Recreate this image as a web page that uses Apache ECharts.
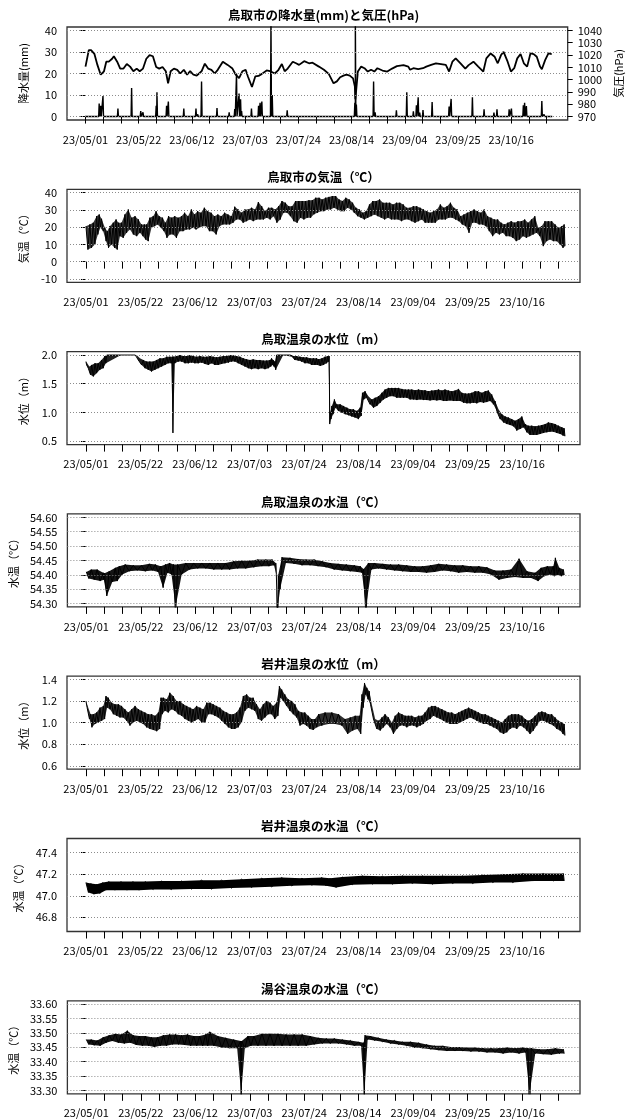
<!DOCTYPE html>
<html><head><meta charset="utf-8">
<script src="https://cdn.jsdelivr.net/npm/echarts@6/dist/echarts.min.js"></script>
<style>html,body{margin:0;padding:0;background:#fff}#c{width:632px;height:1120px}</style>
</head><body><div id="c"></div>
<script>
// ---------- axis labels / ticks ----------
const tickLabels = ['23/05/01','23/05/22','23/06/12','23/07/03','23/07/24','23/08/14','23/09/04','23/09/25','23/10/16'];
const rainTicks = [0,10,20,30,40];
const pressTicks = [970,980,990,1000,1010,1020,1030,1040];
const tempTicks = [-10,0,10,20,30,40];
const tLevelTicks = [0.5,1.0,1.5,2.0];
const tWaterTicks = [54.30,54.35,54.40,54.45,54.50,54.55,54.60];
const iLevelTicks = [0.6,0.8,1.0,1.2,1.4];
const iWaterTicks = [46.8,47.0,47.2,47.4];
const yWaterTicks = [33.30,33.35,33.40,33.45,33.50,33.55,33.60];

// ---------- data (x = days since 2023-05-01 00:00) ----------
const pressureDay = [0,1.3,2.2,3.5,4.7,6.0,7.3,8.2,9.2,10.5,11.2,12.5,13.7,15.0,16.3,17.6,18.9,20.2,21.4,22.7,24.0,25.3,26.6,27.9,29.1,30.4,31.7,32.6,33.6,34.9,36.2,37.4,38.8,40.1,41.3,42.6,43.9,45.8,47.1,48.4,49.7,51.0,52.2,54.2,56.1,58.0,59.3,60.6,61.9,63.2,64.1,65.7,67.0,68.3,69.6,71.5,72.8,74.7,76.0,77.5,78.6,79.8,81.8,83.1,84.3,86.3,88.2,89.6,92.1,94.1,96.0,97.9,99.2,100.5,101.8,103.0,104.3,105.6,106.3,106.5,107.5,108.8,110.1,111.4,112.7,114.0,115.2,117.2,119.1,121.0,122.9,125.5,127.4,128.1,129.4,131.3,133.2,134.5,136.4,138.3,140.3,142.2,143.5,144.8,146.1,148.0,149.9,151.2,153.1,155.0,157.0,158.2,159.9,161.5,162.7,164.0,165.0,166.6,167.9,169.2,170.4,171.7,173.0,174.3,175.6,176.9,178.1,179.4,180.1,181.4,182.7,184.0];
const pressureHpa = [1010.6,1024,1024,1021,1012,1004,1006.8,1014.6,1014.6,1017,1019,1014.6,1009,1009,1012.7,1010.6,1006.8,1009,1006.8,1009,1017,1020,1019,1010.3,1009,1010.3,1006.8,997,1006.8,1009,1008,1005,1008,1004,1007,1004,1003.3,1006.8,1013,1009,1008,1005,1008,1014.6,1012,1009,1004,1001.3,1006.8,1008,1002.6,994,1002.6,1003,1004.7,1007.5,1007,1005,1007.5,1012.7,1006.8,1009,1014.6,1013.3,1012,1015,1013.3,1013.8,1010.6,1008,1004.7,997,998.6,1002,1003.3,1004,1003.3,1001,994.6,984,1006.6,1010.6,1009.3,1006.6,1008,1006.6,1009.3,1007.4,1006.6,1009,1011,1011.8,1010.6,1008,1009.3,1008.5,1009.3,1010.6,1012,1013.3,1012.7,1012,1006.6,1014.6,1017.3,1013.3,1009,1011.8,1014.6,1010.6,1006.6,1017.3,1021.3,1018.6,1013.3,1020,1022.6,1014.6,1006.6,1009.3,1017.3,1020.8,1013.3,1010.6,1021.3,1020.8,1018.6,1010.6,1008.5,1015.9,1021.3,1020.8];

const rainDay = [0,5.4,6.0,6.9,12.8,18.2,21.8,22.7,27.9,28.2,32.0,32.7,38.8,43.6,44.3,45.8,51.9,56.7,58.9,59.6,60.6,61.2,61.6,65.5,68.3,68.9,69.6,73.2,73.7,79.6,106.3,106.5,106.9,113.7,114.3,122.7,126.8,129.4,130.6,131.3,131.9,133.2,136.8,143.5,144.3,152.7,157.3,161.2,162.4,167.2,168.1,172.8,173.3,174.0,180.1,181.0,184];
const rainMm  = [0,6,5,9.5,3.7,13.3,2.6,2,5,11.3,5,7,3.7,3.7,1,16.3,4,2,3.5,20,10.7,8,2.6,3.7,5,6.4,7,45,10,2.9,6.4,45,5.6,16.3,2,2.9,11.3,2.4,5.2,9,1.8,3,6.7,4.6,8.2,9,3.4,1.8,3.4,3.4,3.7,5.2,6.4,4.9,7.2,1,0];

const tempDay = [0,1.5,2.8,4.1,5.1,6.0,7.3,8.2,9.2,10.5, 11.6,12.5,13.7,15.0,16.3,17.6,18.9,20.2,21.4,22.5, 23.4,24.6,25.9,27.0,28.2,29.5,30.6,31.8,33.0,34.2, 35.5,36.8,38.0,39.3,40.6,41.8,43.0,44.3,45.6,46.9, 48.2,49.5,50.8,52.1,53.4,54.7,56.0,57.3,58.6,59.9, 61.2,62.5,63.8,65.1,66.4,67.7,69.0,70.3,71.6,72.9, 74.2,75.5,76.8,78.1,79.4,80.7,82.0,83.3,84.6,85.9, 87.2,88.5,89.8,91.0,92.3,93.6,94.9,96.2,97.5,98.8, 100.1,101.4,102.7,104.0,105.3,106.6,107.9,109.2,110.5,111.8, 113.1,114.4,115.7,117.0,118.3,119.6,120.9,122.2,123.5,124.8, 126.1,127.4,128.7,130.0,131.3,132.6,133.9,135.2,136.5,137.8, 139.1,140.4,141.7,143.0,144.3,145.6,146.9,148.2,149.5,150.8, 152.1,153.4,154.7,156.0,157.3,158.6,159.9,161.2,162.5,163.8, 165.1,166.4,167.7,169.0,170.3,171.6,172.9,174.2,175.5,176.8, 178.1,179.4,180.7,182.0,183.3,184.2];
const tempMax = [20.6,21.6,22.6,26.4,27.4,24.9,19.7,17.7,20.6,22.6, 24.5,22.6,22.6,27.4,30.3,25.5,26.4,24.5,21.6,21.6, 21.6,25.5,26.4,29.3,26.4,25.5,22.6,26.4,25.5,26.4, 25.5,26.4,28.4,26.4,30.3,27.4,29.3,28.4,31.3,29.3, 28.4,26.4,27.4,26.4,28.4,27.4,26.4,31.9,30.3,28.4, 30.3,30.3,31.3,30.3,34.6,32.2,29.3,31.3,31.3,30.3, 32.2,35.2,34.2,32.2,32.2,35.2,35.2,35.2,35.2,35.7, 35.7,37.1,37.1,36.1,37.1,37.6,38.1,38.1,36.1,35.2, 37.1,36.1,34.2,31.3,30.3,28.4,29.3,33.2,35.2,35.2, 36.1,34.2,34.2,34.2,33.2,34.2,34.2,33.2,31.3,31.3, 32.2,32.2,31.3,30.3,29.3,28.4,29.3,30.3,33.2,31.3, 32.2,34.2,31.3,30.3,26.4,27.4,28.4,29.3,30.3,29.3, 28.4,30.3,26.4,25.5,24.5,24.5,22.6,21.6,22.6,23.5, 22.6,23.5,23.5,24.5,22.6,24.5,26.4,19.7,20.6,23.5, 23.5,23.5,21.6,19.7,20.6,21.6];
const tempMin = [7,8,10,15.8,19.7,17.7,11.9,8,10,8, 7,14.8,13.8,16.7,18.7,15.8,14.8,16.7,14.8,12.9, 11.9,19.7,20.6,21.6,19.7,17.7,13.8,15.8,15.8,13.8, 17.7,17.7,18.7,18.7,19.7,18.7,19.7,20.6,20.6,17.7, 17.7,15.8,20.6,21.6,21.6,21.6,22.6,24.5,24.5,22.6, 23.5,24.5,23.5,24.5,24.5,24.5,25.5,24.5,26.4,22.6, 24.5,28.4,28.4,26.4,23.5,22.6,25.5,24.5,25.5,25.5, 27.5,28.4,29.3,29.3,30.3,30.3,31.3,30.3,29.3,29.3, 31.3,30.3,28.4,26.4,25.5,24.5,25.5,26.4,27.4,26.4, 25.5,24.5,25.5,24.5,24.5,24.5,23.5,24.5,24.5,23.5, 22.6,23.5,24.5,22.6,22.6,22.6,22.6,24.5,24.5,24.5, 25.5,25.5,24.5,23.5,21.6,20.6,16.7,22.6,22.6,21.6, 21.6,20.6,17.7,14.8,16.7,15.8,16.7,14.8,14.8,13.8, 11.9,12.9,14.8,13.8,14.8,15.8,16.7,14.8,9,11.9, 12.9,11.9,11.9,10,8,9];

const tLevelDay = [0,0.5,1.3,2.2,3.5,4.7,6.0,7.3,8.0,19.0, 19.5,20.8,22.1,23.4,24.6,25.9,27.2,28.5,29.8,31.1, 32.3,33.4,33.6,34.9,36.2,37.5,38.8,40.1,41.3,42.6, 43.9,45.2,46.5,47.8,49.0,50.3,51.6,52.9,54.2,55.5, 56.7,58.0,59.3,60.6,61.9,63.2,64.4,65.7,67.0,68.3, 69.6,70.9,71.5,72.1,72.8,73.4,78.6,79.8,81.1,82.4, 83.7,85.0,86.3,87.6,88.8,89.6,90.9,92.1,93.2,93.7, 94.1,94.7,95.7,96.6,97.9,99.2,100.5,101.8,103.0,104.3, 105.6,106.5,107.5,108.8,110.1,111.4,112.7,114.0,115.2,116.5, 117.8,119.1,120.4,121.7,123.0,124.2,125.5,126.8,128.1,129.4, 130.6,131.9,133.2,134.5,135.8,137.1,138.3,139.6,140.9,142.2, 143.5,144.8,146.1,147.4,148.6,149.9,151.2,152.5,153.8,155.0, 156.3,157.6,158.9,160.2,161.5,162.7,164.0,165.3,166.6,167.9, 169.2,170.4,171.7,173.0,174.3,175.6,176.9,178.1,179.4,180.7, 182.0,183.3,184.2];
const tLevelMax = [1.886,1.857,1.8,1.828,1.857,1.857,1.914,1.983,2.0,2.0, 2.0,1.943,1.914,1.886,1.886,1.886,1.914,1.943,1.943,1.971, 1.971,1.971,1.971,1.983,2.0,1.983,1.983,2.0,1.983,1.971, 1.983,1.971,1.971,1.983,1.971,1.96,1.971,1.983,1.983,2.0, 1.994,1.983,1.971,1.943,1.926,1.914,1.926,1.914,1.914,1.903, 1.903,1.914,1.943,1.914,1.886,2.0,2.0,1.983,1.983,1.971, 1.96,1.96,1.943,1.943,1.943,1.926,1.943,1.971,1.983,1.98, 0.998,1.113,1.227,1.141,1.141,1.113,1.084,1.056,1.056,1.027, 1.084,1.342,1.37,1.284,1.227,1.256,1.284,1.342,1.399,1.428, 1.428,1.428,1.428,1.41,1.399,1.399,1.399,1.388,1.399,1.388, 1.388,1.37,1.382,1.388,1.399,1.382,1.399,1.382,1.37,1.382, 1.41,1.342,1.33,1.33,1.342,1.37,1.37,1.342,1.37,1.382, 1.313,1.199,1.056,0.97,0.93,0.912,0.884,0.855,0.884,0.93, 0.798,0.769,0.769,0.758,0.769,0.781,0.798,0.827,0.815,0.798, 0.769,0.741,0.724];
const tLevelMin = [1.828,1.771,1.657,1.628,1.685,1.742,1.771,1.857,2.0,2.0, 1.914,1.828,1.771,1.742,1.714,1.742,1.771,1.8,1.828,1.857, 1.857,0.643,1.857,1.886,1.886,1.857,1.857,1.868,1.857,1.857, 1.868,1.845,1.828,1.857,1.828,1.828,1.845,1.857,1.868,1.886, 1.886,1.857,1.828,1.8,1.771,1.754,1.771,1.754,1.771,1.754, 1.771,1.8,1.828,1.8,1.742,2.0,1.971,1.914,1.903,1.886, 1.857,1.857,1.828,1.828,1.828,1.811,1.828,1.857,1.886,0.798, 0.884,0.97,1.084,1.027,0.998,0.97,0.952,0.93,0.912,0.884, 0.941,1.227,1.256,1.141,1.084,1.113,1.17,1.227,1.256,1.284, 1.284,1.256,1.256,1.256,1.256,1.227,1.227,1.216,1.227,1.216, 1.216,1.21,1.216,1.21,1.216,1.199,1.199,1.21,1.199,1.199, 1.199,1.17,1.159,1.159,1.17,1.159,1.181,1.17,1.181,1.199, 1.141,1.027,0.884,0.827,0.798,0.781,0.758,0.684,0.712,0.741, 0.655,0.609,0.609,0.609,0.626,0.643,0.655,0.666,0.666,0.643, 0.626,0.598,0.586];

const tWaterDay = [0,1.9,4.2,6.5,7.0,8.8,11.2,12.7,15.0,18.1, 21.2,24.3,26.6,28.7,30.5,32.1,33.6,35.2,38.3,41.4, 44.5,47.6,50.7,53.7,56.8,59.9,63.0,66.1,69.2,71.6, 73.1,73.4,73.7,74.0,75.4,78.5,81.6,84.7,87.8,90.9, 94.0,97.1,100.2,103.3,105.6,106.9,108.7,111.1,114.2,117.3, 120.4,123.5,126.6,129.6,132.7,135.8,138.9,142.0,145.1,148.2, 151.3,154.4,157.5,160.6,163.7,166.8,169.9,173.0,175.3,177.7, 180.0,180.8,182.3,183.9];
const tWaterMax = [54.410,54.418,54.418,54.407,54.405,54.412,54.424,54.430,54.436,54.433, 54.433,54.438,54.436,54.430,54.436,54.441,54.436,54.436,54.441,54.441, 54.441,54.441,54.441,54.441,54.447,54.449,54.449,54.453,54.453,54.453, 54.440,54.35,54.30,54.40,54.461,54.459,54.455,54.453,54.453,54.447, 54.441,54.438,54.436,54.433,54.430,54.42,54.441,54.441,54.438,54.436, 54.436,54.433,54.430,54.430,54.433,54.438,54.436,54.433,54.433,54.430, 54.430,54.426,54.415,54.415,54.418,54.456,54.412,54.407,54.424,54.430, 54.430,54.459,54.424,54.418];
const tWaterMin = [54.387,54.383,54.378,54.383,54.326,54.375,54.378,54.401,54.412,54.415, 54.412,54.415,54.410,54.355,54.407,54.401,54.25,54.401,54.418,54.422, 54.422,54.418,54.418,54.418,54.422,54.422,54.426,54.430,54.430,54.433, 54.40,54.25,54.25,54.35,54.441,54.438,54.433,54.433,54.430,54.426, 54.418,54.415,54.412,54.410,54.407,54.25,54.418,54.422,54.418,54.415, 54.412,54.410,54.410,54.407,54.410,54.415,54.412,54.407,54.410,54.407, 54.407,54.401,54.383,54.389,54.392,54.389,54.389,54.378,54.395,54.401, 54.395,54.40,54.395,54.399];

const iLevelDay = [0,0.9,1.8,2.8,4.1,5.4,6.7,7.7,8.6,9.9, 11.2,12.5,13.7,15.0,16.3,17.6,18.9,20.2,21.4,22.7, 24.0,25.3,26.6,27.9,28.9,29.8,31.1,32.3,33.6,34.9, 36.2,37.5,38.8,40.1,41.3,42.6,43.9,45.2,46.5,47.8, 49.0,50.3,51.6,52.9,54.2,55.5,56.7,58.0,59.3,60.6, 61.9,63.2,64.4,65.7,67.0,68.3,69.6,70.9,72.1,73.4, 74.5,75.4,76.6,77.9,79.2,80.5,81.8,83.1,84.3,85.6, 86.9,88.2,89.6,92.1,94.7,97.3,99.8,101.8,103.7,105.4, 106.3,107.3,108.2,109.1,110.1,111.4,112.7,114.0,115.2,116.5, 117.8,119.1,120.4,121.7,123.0,124.2,125.5,126.8,128.1,129.4, 130.6,131.9,133.2,134.5,135.8,137.1,138.3,139.6,140.9,142.2, 143.5,144.8,146.1,147.4,148.6,149.9,151.2,152.5,153.8,155.0, 156.3,157.6,158.9,160.2,161.5,162.7,164.0,165.3,166.6,167.9, 169.2,170.4,171.7,173.0,174.3,175.6,176.9,178.1,179.4,180.7, 182.0,183.3,184.2];
const iLevelMax = [1.202,1.140,1.079,1.079,1.095,1.140,1.156,1.247,1.232,1.186, 1.171,1.171,1.156,1.125,1.095,1.125,1.156,1.125,1.110,1.095, 1.079,1.079,1.064,1.095,1.232,1.232,1.217,1.278,1.247,1.202, 1.202,1.171,1.156,1.140,1.125,1.156,1.140,1.125,1.186,1.186, 1.171,1.156,1.140,1.110,1.095,1.079,1.079,1.095,1.140,1.247, 1.263,1.232,1.232,1.171,1.125,1.171,1.202,1.186,1.156,1.186, 1.339,1.308,1.263,1.217,1.202,1.171,1.110,1.095,1.095,1.064, 1.034,1.034,1.079,1.095,1.095,1.079,1.034,1.049,1.064,1.064, 1.263,1.369,1.324,1.293,1.171,1.034,1.018,1.049,1.079,1.049, 1.003,1.064,1.095,1.079,1.064,1.064,1.064,1.049,1.064,1.064, 1.095,1.140,1.156,1.156,1.140,1.125,1.110,1.095,1.095,1.079, 1.095,1.110,1.125,1.140,1.125,1.110,1.095,1.079,1.079,1.064, 1.049,1.034,1.018,1.003,1.034,1.064,1.079,1.079,1.079,1.064, 1.034,1.018,1.034,1.064,1.095,1.104,1.095,1.079,1.079,1.049, 1.018,1.003,0.988];
const iLevelMin = [1.140,1.034,0.957,0.988,1.003,1.018,1.034,1.140,1.125,1.079, 1.064,1.049,1.049,1.018,0.973,1.003,1.018,1.003,0.988,0.957, 0.942,0.933,0.921,0.942,1.079,1.110,1.095,1.125,1.110,1.079, 1.064,1.034,1.018,1.003,1.018,1.034,1.003,1.003,1.079,1.079, 1.064,1.049,1.018,0.988,0.957,0.942,0.942,0.957,1.003,1.110, 1.140,1.125,1.110,1.034,1.018,1.049,1.079,1.079,1.034,1.064, 1.232,1.202,1.156,1.110,1.079,1.049,0.973,0.988,0.973,0.942, 0.933,0.957,0.973,0.988,0.988,0.973,0.896,0.927,0.942,0.896, 1.140,1.263,1.217,1.171,1.034,0.942,0.927,0.957,0.988,0.957, 0.896,0.942,0.973,0.973,0.957,0.973,0.973,0.957,0.973,0.988, 1.018,1.034,1.064,1.049,1.034,1.018,1.003,0.988,0.988,0.988, 1.003,1.018,1.034,1.049,1.034,1.018,1.003,0.988,0.988,0.973, 0.957,0.942,0.911,0.896,0.911,0.942,0.957,0.942,0.973,0.957, 0.927,0.896,0.927,0.973,1.018,1.018,1.003,0.988,0.973,0.942, 0.927,0.896,0.881];

const iWaterDay = [0,1.9,4.2,6.5,8.8,13.5,18.1,22.8,29.0,36.7, 44.5,52.2,59.9,67.7,75.4,83.2,90.9,94.0,98.7,106.4, 114.2,121.9,129.6,137.4,145.1,152.9,160.6,168.3,176.1,183.9];
const iWaterMax = [47.123,47.114,47.108,47.123,47.132,47.132,47.132,47.132,47.138,47.138, 47.145,47.145,47.154,47.163,47.169,47.163,47.169,47.163,47.175,47.185, 47.182,47.185,47.185,47.185,47.185,47.194,47.2,47.206,47.206,47.206];
const iWaterMin = [47.031,47.015,47.022,47.052,47.052,47.052,47.052,47.058,47.058,47.062, 47.062,47.071,47.077,47.083,47.092,47.098,47.092,47.077,47.102,47.108, 47.108,47.114,47.108,47.114,47.114,47.123,47.123,47.138,47.138,47.138];

const yWaterDay = [0,1.9,4.2,6.5,8.8,11.2,13.5,15.8,18.1,20.4, 22.8,25.1,27.4,29.7,32.1,34.4,36.7,39.0,41.4,43.7, 46.0,47.6,50.7,53.7,56.8,59.5,59.9,62.3,64.6,67.7, 70.8,73.9,77.0,80.1,83.2,86.3,89.4,92.5,95.6,98.7, 101.8,104.9,106.9,107.4,109.5,112.6,115.7,118.8,121.9,125.0, 128.1,131.2,134.3,137.4,140.5,143.6,146.7,149.8,152.9,156.0, 159.1,162.2,165.3,168.3,170.2,171.5,174.6,177.7,180.8,183.9];
const yWaterMax = [33.477,33.477,33.474,33.485,33.492,33.497,33.495,33.508,33.492,33.489, 33.489,33.485,33.485,33.492,33.495,33.495,33.492,33.495,33.489,33.489, 33.495,33.504,33.489,33.483,33.477,33.472,33.472,33.489,33.489,33.497, 33.497,33.497,33.495,33.495,33.495,33.489,33.483,33.481,33.481,33.477, 33.474,33.469,33.466,33.492,33.489,33.483,33.477,33.474,33.469,33.469, 33.466,33.460,33.455,33.455,33.451,33.451,33.449,33.449,33.447,33.447, 33.447,33.449,33.447,33.449,33.447,33.447,33.443,33.443,33.447,33.443];
const yWaterMin = [33.460,33.457,33.455,33.466,33.472,33.466,33.463,33.466,33.458,33.455, 33.455,33.451,33.455,33.455,33.460,33.460,33.458,33.455,33.455,33.455, 33.455,33.455,33.449,33.447,33.447,33.2,33.447,33.455,33.455,33.455, 33.455,33.455,33.455,33.455,33.455,33.460,33.463,33.463,33.463,33.460, 33.455,33.455,33.2,33.477,33.474,33.469,33.463,33.460,33.455,33.449, 33.447,33.443,33.440,33.437,33.437,33.437,33.435,33.435,33.432,33.432, 33.428,33.432,33.428,33.432,33.2,33.428,33.426,33.424,33.428,33.428];

// ---------- layout / style ----------
const FONT = '"Noto Sans CJK JP","Noto Sans",sans-serif';
const ORIGIN = Date.UTC(2023,4,1);
const labelDays = tickLabels.map(s => (Date.UTC(2000 + +s.slice(0,2), +s.slice(3,5)-1, +s.slice(6,8)) - ORIGIN) / 86400000);
const weekTicks = []; for (let d = 0; d <= 182; d += 7) weekTicks.push(d);
const X_MIN = -7.3, X_MAX = 190.3;
const G_LEFT = 67, G_RIGHT = 52, G_H = 93;
const gTop = i => 27 + 162.3 * i;

const panels = [
  {title:'鳥取市の降水量(mm)と気圧(hPa)', name:'降水量(mm)', lim:[0,40], ticks:rainTicks, dec:0},
  {title:'鳥取市の気温（℃）', name:'気温（℃）', lim:[-10,40], ticks:tempTicks, dec:0},
  {title:'鳥取温泉の水位（m）', name:'水位（m）', lim:[0.5,2.0], ticks:tLevelTicks, dec:1},
  {title:'鳥取温泉の水温（℃）', name:'水温（℃）', lim:[54.3,54.6], ticks:tWaterTicks, dec:2},
  {title:'岩井温泉の水位（m）', name:'水位（m）', lim:[0.6,1.4], ticks:iLevelTicks, dec:1},
  {title:'岩井温泉の水温（℃）', name:'水温（℃）', lim:[46.7,47.5], ticks:iWaterTicks, dec:1},
  {title:'湯谷温泉の水温（℃）', name:'水温（℃）', lim:[33.3,33.6], ticks:yWaterTicks, dec:2}
];
const padLim = lim => { const p = (lim[1]-lim[0]) * 0.04; return [lim[0]-p, lim[1]+p]; };

const grids = panels.map((p,i) => ({left:G_LEFT, right:G_RIGHT, top:gTop(i), height:G_H, show:true, borderColor:'#333', borderWidth:1.3, backgroundColor:'transparent'}));

const xAxes = panels.map((p,i) => ({
  type:'value', gridIndex:i, min:X_MIN, max:X_MAX,
  axisLine:{show:false}, splitLine:{show:false},
  axisTick:{show:true, length:7, customValues:weekTicks, lineStyle:{color:'#000', width:1}},
  axisLabel:{customValues:labelDays, formatter:v => tickLabels[labelDays.indexOf(v)] || '', margin:14, fontSize:11, color:'#000', fontFamily:FONT}
}));

function yAxisDef(gridIndex, lim, ticks, dec, name, position) {
  const [mn, mx] = padLim(lim);
  return {
    type:'value', gridIndex, position, min:mn, max:mx,
    name, nameLocation:'middle', nameRotate:90, nameGap:38,
    nameTextStyle:{fontSize:11, color:'#000', fontFamily:FONT},
    axisLine:{show:false}, splitLine:{show:false},
    axisTick:{show:true, length:5, customValues:ticks, lineStyle:{color:'#000', width:1}},
    axisLabel:{customValues:ticks, formatter:v => v.toFixed(dec), margin:10, fontSize:11, color:'#000', fontFamily:FONT}
  };
}
const yAxes = [];
panels.forEach((p,i) => {
  yAxes.push(yAxisDef(i, p.lim, p.ticks, p.dec, p.name, 'left'));
  if (i === 0) yAxes.push(yAxisDef(0, [970,1040], pressTicks, 0, '気圧(hPa)', 'right'));
});
const yIndexOf = i => (i === 0 ? 0 : i + 1);

const series = [];
// dotted horizontal grid lines
panels.forEach((p,i) => {
  series.push({type:'line', xAxisIndex:i, yAxisIndex:yIndexOf(i), data:[], z:1, silent:true,
    markLine:{silent:true, animation:false, symbol:['none','none'], label:{show:false},
      lineStyle:{type:[1,2], color:'#8c8c8c', width:1}, data:p.ticks.map(v => ({yAxis:v}))}});
});

// panel 1: rain spikes + pressure
const rainPts = [];
rainDay.forEach((d,k) => { rainPts.push([d-0.2,0]); rainPts.push([d,rainMm[k]]); rainPts.push([d+0.2,0]); });
series.push({type:'line', xAxisIndex:0, yAxisIndex:0, data:rainPts, symbol:'none', z:3, silent:true,
  lineStyle:{color:'#000', width:1.4}});
series.push({type:'line', xAxisIndex:0, yAxisIndex:1, data:pressureDay.map((d,k) => [d, pressureHpa[k]]), symbol:'none', z:4, silent:true,
  lineStyle:{color:'#000', width:1.8}});

// band panels: envelope fill + zigzag trace between read highs and lows
function band(i, days, hi, lo, alpha) {
  const [mn, mx] = padLim(panels[i].lim);
  const cl = v => Math.max(mn, Math.min(mx, v));
  const half = days.map((d,k) => k < days.length-1 ? (days[k+1]-d)/2 : 0.3);
  const zig = [];
  days.forEach((d,k) => { zig.push([d, hi[k]]); zig.push([d+half[k], lo[k]]); });
  series.push({type:'custom', xAxisIndex:i, yAxisIndex:yIndexOf(i), clip:true, silent:true, z:2, data:[[days[0], lo[0]]],
    renderItem:(params, api) => {
      const pts = [];
      days.forEach((d,k) => pts.push(api.coord([d, cl(hi[k])])));
      for (let k = days.length-1; k >= 0; k--) pts.push(api.coord([days[k]+half[k], cl(lo[k])]));
      return {type:'polygon', shape:{points:pts}, style:{fill:'rgba(0,0,0,' + alpha + ')'}};
    }});
  series.push({type:'line', xAxisIndex:i, yAxisIndex:yIndexOf(i), data:zig, symbol:'none', z:3, silent:true,
    lineStyle:{color:'#000', width:1}});
}
band(1, tempDay, tempMax, tempMin, 0.78);
band(2, tLevelDay, tLevelMax, tLevelMin, 0.88);
band(3, tWaterDay, tWaterMax, tWaterMin, 0.92);
band(4, iLevelDay, iLevelMax, iLevelMin, 0.82);
band(5, iWaterDay, iWaterMax, iWaterMin, 1);
band(6, yWaterDay, yWaterMax, yWaterMin, 0.92);

const graphic = panels.map((p,i) => ({type:'text', x:323.5, y:gTop(i)-12, silent:true,
  style:{text:p.title, font:'bold 12.5px ' + FONT, fill:'#000', align:'center', verticalAlign:'middle'}}));

const chart = echarts.init(document.getElementById('c'), null, {renderer:'canvas'});
chart.setOption({
  animation:false, backgroundColor:'#fff',
  textStyle:{fontFamily:FONT},
  grid:grids, xAxis:xAxes, yAxis:yAxes, series, graphic
});
</script></body></html>
